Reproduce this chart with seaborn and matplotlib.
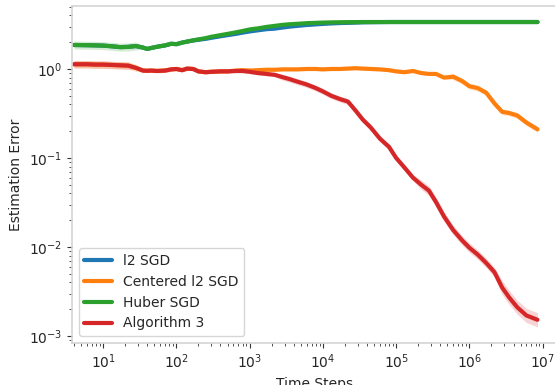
import numpy as np
import pandas as pd
import matplotlib
matplotlib.use("Agg")
import matplotlib.pyplot as plt
import seaborn as sns

# time steps (shared x grid)
steps = [4, 6, 8, 10, 13, 17, 22, 28, 35, 40, 45, 55, 70, 85, 100, 120, 140, 170, 200,
         250, 300, 400, 500, 650, 800, 1e3, 1.3e3, 1.7e3, 2.2e3, 2.8e3, 3.5e3, 4.5e3,
         6e3, 8e3, 1e4, 1.3e4, 1.7e4, 2.2e4, 2.8e4, 3.5e4, 4.5e4, 6e4, 8e4, 1e5, 1.3e5,
         1.7e5, 2.2e5, 2.8e5, 3.5e5, 4.5e5, 6e5, 8e5, 1e6, 1.3e6, 1.7e6, 2.2e6, 2.8e6,
         3.5e6, 4.5e6, 6e6, 8.5e6]

# mean estimation error per method
huber = [1.86, 1.85, 1.84, 1.83, 1.80, 1.76, 1.77, 1.81, 1.74, 1.68, 1.72, 1.78, 1.84,
         1.92, 1.90, 1.98, 2.03, 2.10, 2.15, 2.22, 2.30, 2.40, 2.48, 2.58, 2.67, 2.78,
         2.86, 2.97, 3.05, 3.13, 3.18, 3.22, 3.27, 3.30, 3.32, 3.34, 3.35, 3.36, 3.36,
         3.37, 3.37, 3.37, 3.37, 3.37, 3.37, 3.37, 3.37, 3.37, 3.37, 3.37, 3.37, 3.37,
         3.37, 3.37, 3.37, 3.37, 3.37, 3.37, 3.37, 3.37, 3.37]
l2 = [1.86, 1.85, 1.84, 1.83, 1.80, 1.76, 1.77, 1.81, 1.74, 1.68, 1.72, 1.78, 1.84,
      1.92, 1.90, 1.98, 2.03, 2.09, 2.13, 2.18, 2.24, 2.33, 2.40, 2.48, 2.56, 2.64,
      2.72, 2.80, 2.84, 2.92, 2.99, 3.05, 3.12, 3.17, 3.21, 3.25, 3.28, 3.30, 3.32,
      3.34, 3.35, 3.36, 3.37, 3.37, 3.37, 3.37, 3.37, 3.37, 3.37, 3.37, 3.37, 3.37,
      3.37, 3.37, 3.37, 3.37, 3.37, 3.37, 3.37, 3.37, 3.37]
centered = [1.13, 1.13, 1.12, 1.12, 1.11, 1.10, 1.09, 1.03, 0.96, 0.955, 0.96, 0.95,
            0.96, 0.99, 1.0, 0.97, 1.01, 1.0, 0.94, 0.92, 0.93, 0.94, 0.94, 0.96, 0.97,
            0.96, 0.97, 0.98, 0.98, 0.99, 0.99, 0.99, 1.0, 1.0, 0.99, 1.0, 1.0, 1.01,
            1.02, 1.01, 1.0, 0.99, 0.97, 0.94, 0.92, 0.95, 0.90, 0.88, 0.88, 0.80, 0.82,
            0.73, 0.64, 0.61, 0.54, 0.41, 0.33, 0.32, 0.30, 0.25, 0.21]
alg3 = [1.13, 1.13, 1.12, 1.12, 1.11, 1.10, 1.09, 1.03, 0.96, 0.955, 0.96, 0.95, 0.96,
        0.99, 1.0, 0.97, 1.01, 1.0, 0.94, 0.92, 0.93, 0.94, 0.94, 0.95, 0.95, 0.93,
        0.90, 0.88, 0.86, 0.81, 0.77, 0.72, 0.67, 0.61, 0.56, 0.50, 0.46, 0.43, 0.34,
        0.27, 0.22, 0.165, 0.133, 0.10, 0.078, 0.06, 0.05, 0.043, 0.032, 0.022, 0.0155,
        0.0118, 0.0098, 0.0082, 0.0066, 0.0052, 0.0035, 0.0027, 0.0021, 0.0017, 0.00152]

# spread of the shaded band (multiplicative factor around the mean)
huber_sd = [1.11] * 8 + [1.04] * 30 + [1.025] * 23
l2_sd = [1.03] * 61
centered_sd = [1.1] * 8 + [1.04] * 42 + [1.08] * 11
alg3_sd = [1.1] * 7 + [1.05] * 22 + [1.08] * 17 + [1.13] * 10 + [1.2] * 5

labels = ['l2 SGD', 'Centered l2 SGD', 'Huber SGD', 'Algorithm 3']
colors = ['#1f77b4', '#ff7f0e', '#2ca02c', '#d62728']
means = [l2, centered, huber, alg3]
spreads = [l2_sd, centered_sd, huber_sd, alg3_sd]

sns.set_style('white')
plt.rcParams['font.family'] = ['DejaVu Sans']

fig = plt.figure(figsize=(5.55, 3.85), dpi=100)
ax = fig.add_axes([0.1297, 0.1091, 0.875, 0.8753])

for lab, col, m, s in zip(labels, colors, means, spreads):
    m = np.array(m)
    s = np.array(s)
    ax.fill_between(steps, m / s, m * s, color=col, alpha=0.2, lw=0)
    sns.lineplot(x=steps, y=m, ax=ax, color=col, lw=3, label=lab)

ax.set_xscale('log')
ax.set_yscale('log')
ax.set_xlim(3.76, 1.6e7)
ax.set_ylim(8.34e-4, 5.1)
ax.set_xlabel('Time Steps', fontsize=10)
ax.set_ylabel('Estimation Error', fontsize=10)

for sp in ax.spines.values():
    sp.set_color('#d4d4d4')
    sp.set_linewidth(1.2)
ax.tick_params(which='both', direction='out', color='#333333', labelsize=10,
               bottom=True, left=True)
ax.tick_params(which='major', length=3.5, width=0.8)
ax.tick_params(which='minor', length=2, width=0.6)

leg = ax.legend(loc='lower left', fontsize=10, frameon=True)
for h in leg.get_lines():
    h.set_linewidth(3)

fig.savefig('out.png', dpi=100)
